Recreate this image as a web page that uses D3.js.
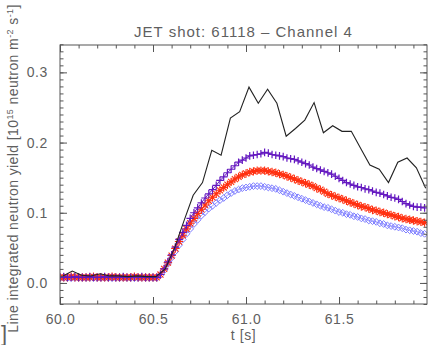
<!DOCTYPE html>
<html>
<head>
<meta charset="utf-8">
<script src="https://cdn.jsdelivr.net/npm/d3@7/dist/d3.min.js"></script>
<style>
  html, body { margin: 0; padding: 0; background: #fff; }
  svg { display: block; }
  text { font-family: "Liberation Sans", Arial, sans-serif; fill: #5f5f5f; }
</style>
</head>
<body>
<svg id="chart" width="431" height="345"></svg>
<script>
// ---- data -------------------------------------------------------------
const titleText = "JET shot: 61118 \u2013 Channel 4";
const xLabelText = "t [s]";
const xTicks = [60.0, 60.5, 61.0, 61.5];
const yTicks = [0.0, 0.1, 0.2, 0.3];

// marker series sample times (s)
const markerStart = 60.00, markerStep = 0.02, markerCount = 99;

// purple "+" series
const purpleVals = [
  0.008,0.009,0.008,0.008,0.009,0.008,0.008,0.008,0.009,0.008,
  0.008,0.008,0.009,0.008,0.008,0.008,0.008,0.009,0.008,0.008,
  0.008,0.008,0.009,0.008,0.008,0.008,0.008,
  0.012,0.020,0.030,0.040,0.051,0.062,0.072,0.082,0.092,0.100,
  0.107,0.114,0.121,0.127,0.133,0.139,0.146,0.151,0.157,0.162,
  0.167,0.172,0.175,0.178,0.181,0.182,0.183,0.184,0.186,0.185,
  0.183,0.182,0.181,0.180,0.178,0.177,0.176,0.174,0.172,0.170,
  0.168,0.165,0.163,0.161,0.159,0.157,0.155,0.152,0.149,0.146,
  0.143,0.141,0.139,0.137,0.136,0.134,0.133,0.131,0.129,0.128,
  0.126,0.124,0.122,0.121,0.119,0.116,0.113,0.111,0.109,0.108,
  0.108,0.107
];
// red "*" series
const redVals = [
  0.008,0.008,0.008,0.009,0.008,0.008,0.008,0.008,0.008,0.009,
  0.008,0.008,0.008,0.008,0.009,0.008,0.008,0.008,0.008,0.008,
  0.009,0.008,0.008,0.008,0.008,0.008,0.008,
  0.012,0.020,0.029,0.039,0.049,0.059,0.068,0.077,0.085,0.092,
  0.099,0.105,0.111,0.117,0.122,0.127,0.132,0.136,0.140,0.144,
  0.148,0.151,0.154,0.156,0.158,0.159,0.160,0.160,0.160,0.159,
  0.158,0.157,0.155,0.154,0.152,0.150,0.148,0.146,0.144,0.142,
  0.140,0.138,0.135,0.133,0.130,0.127,0.125,0.123,0.121,0.119,
  0.117,0.115,0.113,0.111,0.109,0.108,0.106,0.104,0.103,0.101,
  0.100,0.098,0.097,0.095,0.094,0.092,0.091,0.090,0.089,0.088,
  0.087,0.086
];
// blue diamond series
const blueVals = [
  0.007,0.007,0.007,0.007,0.007,0.007,0.007,0.007,0.007,0.007,
  0.007,0.007,0.007,0.007,0.007,0.007,0.007,0.007,0.007,0.007,
  0.007,0.007,0.007,0.007,0.007,0.007,0.007,
  0.011,0.018,0.027,0.036,0.045,0.054,0.062,0.070,0.077,0.084,
  0.090,0.096,0.101,0.106,0.110,0.114,0.118,0.121,0.125,0.128,
  0.131,0.133,0.135,0.136,0.137,0.138,0.138,0.138,0.137,0.136,
  0.135,0.134,0.132,0.130,0.128,0.126,0.124,0.122,0.120,0.118,
  0.116,0.114,0.112,0.110,0.108,0.107,0.105,0.103,0.101,0.100,
  0.098,0.097,0.095,0.094,0.092,0.091,0.089,0.088,0.087,0.085,
  0.084,0.082,0.081,0.080,0.079,0.078,0.076,0.075,0.074,0.073,
  0.071,0.070
];

// black measured trace, sampled every 0.05 s
const blackTimes = [
  60.016,60.066,60.116,60.166,60.216,60.266,60.316,60.366,60.416,60.466,
  60.516,60.566,60.616,60.666,60.716,60.766,60.816,60.866,60.916,60.966,
  61.016,61.066,61.116,61.166,61.216,61.266,61.316,61.366,61.416,61.466,
  61.516,61.566,61.616,61.666,61.716,61.766,61.816,61.866,61.916,61.966
];
const blackVals = [
  0.010,0.017,0.011,0.010,0.013,0.010,0.010,0.009,0.010,0.009,
  0.009,0.020,0.050,0.088,0.125,0.143,0.189,0.182,0.235,0.244,
  0.279,0.256,0.276,0.256,0.209,0.220,0.232,0.257,0.214,0.224,
  0.216,0.216,0.192,0.168,0.162,0.143,0.172,0.178,0.164,0.135
];

// ---- layout -----------------------------------------------------------
const svg = d3.select("#chart");
const plotL = 60, plotR = 427, plotT = 45, plotB = 304;

const x = d3.scaleLinear().domain([60.0, 61.973]).range([plotL, plotR]);
const y = d3.scaleLinear().domain([-0.03, 0.339]).range([plotB, plotT]);

const markerTimes = d3.range(markerCount).map(i => markerStart + i * markerStep);
const toPts = (ts, vs) => ts.map((t, i) => ({ t, v: vs[i] })).filter(d => d.v != null);

svg.append("rect").attr("width", 431).attr("height", 345).attr("fill", "#fff");

svg.append("defs").append("clipPath").attr("id", "plotClip")
  .append("rect").attr("x", plotL).attr("y", plotT)
  .attr("width", plotR - plotL).attr("height", plotB - plotT);

const plot = svg.append("g").attr("clip-path", "url(#plotClip)");
const line = d3.line().x(d => x(d.t)).y(d => y(d.v));

// marker glyphs (IDL-style psym shapes)
function plusPath(s) { return `M${-s},0H${s}M0,${-s}V${s}`; }
function starPath(s) {
  const d = s * 0.72;
  return `M${-s},0H${s}M0,${-s}V${s}M${-d},${-d}L${d},${d}M${-d},${d}L${d},${-d}`;
}
function diamondPath(s) { return `M0,${-s}L${s},0L0,${s}L${-s},0Z`; }

function drawSeries(vals, color, pathFn, size, width, lineOpacity) {
  const pts = toPts(markerTimes, vals);
  const g = plot.append("g");
  g.append("path").datum(pts).attr("d", line)
    .attr("fill", "none").attr("stroke", color)
    .attr("stroke-width", 1).attr("stroke-opacity", lineOpacity);
  g.selectAll("path.m").data(pts).join("path").attr("class", "m")
    .attr("transform", d => `translate(${x(d.t)},${y(d.v)})`)
    .attr("d", pathFn(size))
    .attr("fill", "none").attr("stroke", color).attr("stroke-width", width);
}

drawSeries(blueVals, "#7c7cff", diamondPath, 3.4, 1, 0.8);
drawSeries(redVals, "#ff3010", starPath, 4.2, 1.1, 0.9);
drawSeries(purpleVals, "#6418c0", plusPath, 3.8, 1.2, 1);

plot.append("path").datum(toPts(blackTimes, blackVals)).attr("d", line)
  .attr("fill", "none").attr("stroke", "#222").attr("stroke-width", 1.1);

// ---- axes -------------------------------------------------------------
const axisColor = "#555";
const xMinor = d3.range(60.0, 61.98, 0.1);
const yMinor = d3.range(-0.03, 0.341, 0.01).map(v => Math.round(v * 100) / 100);
const majorLen = 7, minorLen = 3.5;

function styleAxis(g) {
  g.select(".domain").remove();
  g.selectAll("line").attr("stroke", axisColor);
}
function styleLabels(g) {
  g.selectAll("text").attr("font-size", 14).attr("letter-spacing", 0.6)
    .attr("fill", "#5f5f5f");
}

// bottom & top (ticks point inward)
svg.append("g").attr("transform", `translate(0,${plotB})`)
  .call(d3.axisBottom(x).tickValues(xMinor).tickSize(-minorLen).tickFormat(""))
  .call(styleAxis);
svg.append("g").attr("transform", `translate(0,${plotB})`)
  .call(d3.axisBottom(x).tickValues(xTicks).tickSize(-majorLen).tickPadding(10).tickFormat(d3.format(".1f")))
  .call(styleAxis)
  .call(styleLabels);
svg.append("g").attr("transform", `translate(0,${plotT})`)
  .call(d3.axisTop(x).tickValues(xMinor).tickSize(-minorLen).tickFormat(""))
  .call(styleAxis);
svg.append("g").attr("transform", `translate(0,${plotT})`)
  .call(d3.axisTop(x).tickValues(xTicks).tickSize(-majorLen).tickFormat(""))
  .call(styleAxis);

// left & right
svg.append("g").attr("transform", `translate(${plotL},0)`)
  .call(d3.axisLeft(y).tickValues(yMinor).tickSize(-minorLen).tickFormat(""))
  .call(styleAxis);
svg.append("g").attr("transform", `translate(${plotL},0)`)
  .call(d3.axisLeft(y).tickValues(yTicks).tickSize(-majorLen).tickPadding(12).tickFormat(d3.format(".1f")))
  .call(styleAxis)
  .call(styleLabels);
svg.append("g").attr("transform", `translate(${plotR},0)`)
  .call(d3.axisRight(y).tickValues(yMinor).tickSize(-minorLen).tickFormat(""))
  .call(styleAxis);
svg.append("g").attr("transform", `translate(${plotR},0)`)
  .call(d3.axisRight(y).tickValues(yTicks).tickSize(-majorLen).tickFormat(""))
  .call(styleAxis);

// frame
svg.append("rect").attr("x", plotL).attr("y", plotT)
  .attr("width", plotR - plotL).attr("height", plotB - plotT)
  .attr("fill", "none").attr("stroke", axisColor).attr("stroke-width", 1);

// ---- titles -----------------------------------------------------------
svg.append("text").attr("x", (plotL + plotR) / 2).attr("y", 37)
  .attr("text-anchor", "middle").attr("font-size", 15)
  .attr("letter-spacing", 1).text(titleText);

svg.append("text").attr("x", (plotL + plotR) / 2).attr("y", 340)
  .attr("text-anchor", "middle").attr("font-size", 14)
  .attr("letter-spacing", 0.6).text(xLabelText);

const yl = svg.append("text")
  .attr("transform", `translate(18,${(plotT + plotB) / 2 - 6}) rotate(-90)`)
  .attr("text-anchor", "middle").attr("font-size", 14).attr("letter-spacing", 0.4);
yl.append("tspan").text("Line integrated neutron yield [10");
yl.append("tspan").attr("dy", -5).attr("font-size", 9).text("15");
yl.append("tspan").attr("dy", 5).text(" neutron m");
yl.append("tspan").attr("dy", -5).attr("font-size", 9).text("-2");
yl.append("tspan").attr("dy", 5).text(" s");
yl.append("tspan").attr("dy", -5).attr("font-size", 9).text("-1");
yl.append("tspan").attr("dy", 5).text("]");

// stray bracket glyph at the foot of the label
svg.append("text").attr("x", 1).attr("y", 341).attr("font-size", 22).text("]");
</script>
</body>
</html>
